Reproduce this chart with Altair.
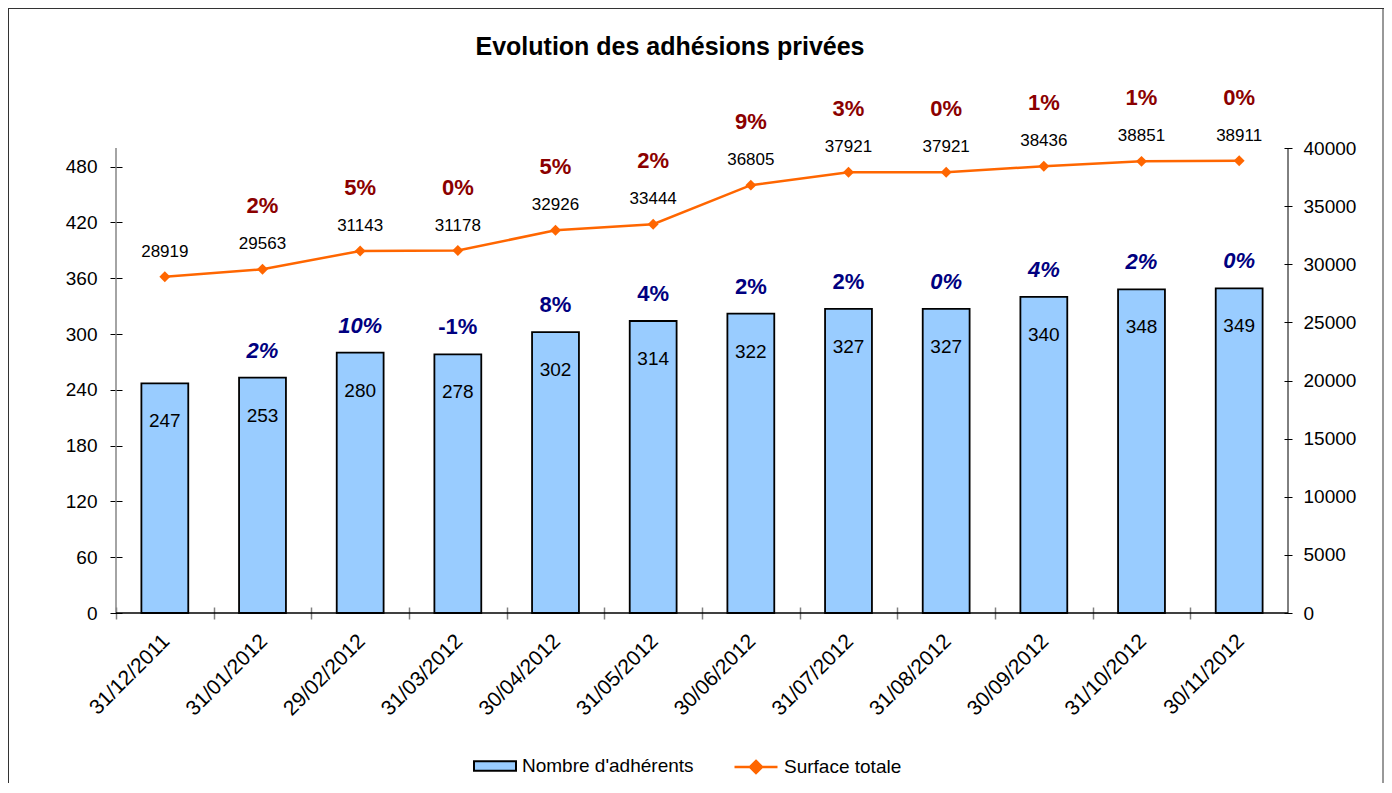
import altair as alt
import pandas as pd

dates = ["31/12/2011", "31/01/2012", "29/02/2012", "31/03/2012", "30/04/2012", "31/05/2012",
         "30/06/2012", "31/07/2012", "31/08/2012", "30/09/2012", "31/10/2012", "30/11/2012"]
adherents = [247, 253, 280, 278, 302, 314, 322, 327, 327, 340, 348, 349]
surface = [28919, 29563, 31143, 31178, 32926, 33444, 36805, 37921, 37921, 38436, 38851, 38911]
pct_adherents = ["", "2%", "10%", "-1%", "8%", "4%", "2%", "2%", "0%", "4%", "2%", "0%"]
pct_adherents_italic = [False, True, True, False, False, False, False, False, True, True, True, True]
pct_surface = ["", "2%", "5%", "0%", "5%", "2%", "9%", "3%", "0%", "1%", "1%", "0%"]
left_ticks = [0, 60, 120, 180, 240, 300, 360, 420, 480]
right_ticks = [0, 5000, 10000, 15000, 20000, 25000, 30000, 35000, 40000]
serie_bar = "Nombre d'adhérents"
serie_line = "Surface totale"
title_text = "Evolution des adhésions privées"

FONT = "Liberation Sans"
W, H = 1172, 465
STEP = W / len(dates)

df = pd.DataFrame({
    "date": dates,
    "adherents": adherents,
    "surface": surface,
    "pct_a": pct_adherents,
    "italic": pct_adherents_italic,
    "pct_s": pct_surface,
    "serie_bar": [serie_bar] * len(dates),
    "serie_line": [serie_line] * len(dates),
})

x_enc = alt.X(
    "date:N", sort=dates, title=None,
    scale=alt.Scale(paddingInner=0.52, paddingOuter=0.26),
    axis=alt.Axis(
        labelAngle=-45, labelAlign="right", labelBaseline="top",
        labelFont=FONT, labelFontSize=21, labelColor="black",
        labelPadding=11, labelOffset=STEP / 2 - 6.5,
        bandPosition=0.5, tickOffset=-STEP / 2,
        tickSize=12, tickColor="#808080", tickWidth=1.5, offset=-6,
        domain=False, grid=False,
    ),
)

y_left = alt.Y(
    "adherents:Q", title=None,
    scale=alt.Scale(domain=[0, 500], nice=False, zero=True),
    axis=alt.Axis(orient="left", values=left_ticks, labelFont=FONT, labelFontSize=19,
                  labelColor="black", tickSize=12, tickColor="black", offset=-6,
                  labelPadding=13, domain=False, grid=False),
)

y_right = alt.Y(
    "surface:Q", title=None,
    scale=alt.Scale(domain=[0, 40000], nice=False, zero=True),
    axis=alt.Axis(orient="right", values=right_ticks, labelFont=FONT, labelFontSize=19,
                  labelColor="black", tickSize=8, tickColor="black", offset=-4,
                  labelPadding=11, domain=False, grid=False, format="d"),
)

base = alt.Chart(df)

bars = base.mark_bar(stroke="black", strokeWidth=1.8).encode(
    x=x_enc,
    y=y_left,
    fill=alt.Fill("serie_bar:N", scale=alt.Scale(domain=[serie_bar], range=["#99CCFF"]),
                  legend=alt.Legend(orient="none", legendX=357, legendY=596, title=None,
                                    symbolType="M-1,-0.23H1V0.23H-1Z", symbolSize=1764,
                                    symbolStrokeColor="black", symbolStrokeWidth=2,
                                    labelFont=FONT, labelFontSize=19, labelColor="black",
                                    labelOffset=5, padding=0, labelLimit=400)),
)
bar_labels = base.mark_text(font=FONT, fontSize=19, baseline="middle", dy=38, color="black").encode(
    x=x_enc, y=y_left, text="adherents:Q")
pct_a_italic = base.transform_filter("datum.italic").mark_text(
    font=FONT, fontSize=22, fontWeight="bold", fontStyle="italic", color="#000080",
    baseline="middle", dy=-27).encode(x=x_enc, y=y_left, text="pct_a:N")
pct_a_normal = base.transform_filter("!datum.italic").mark_text(
    font=FONT, fontSize=22, fontWeight="bold", color="#000080",
    baseline="middle", dy=-27).encode(x=x_enc, y=y_left, text="pct_a:N")

bar_group = alt.layer(bars, bar_labels, pct_a_italic, pct_a_normal)

line = base.mark_line(strokeWidth=2.5).encode(
    x=x_enc,
    y=y_right,
    stroke=alt.Stroke("serie_line:N", scale=alt.Scale(domain=[serie_line], range=["#FF6600"]),
                      legend=alt.Legend(orient="none", legendX=617, legendY=596, title=None,
                                        symbolType="M-1,0H1M0,-0.28L0.28,0L0,0.28L-0.28,0Z",
                                        symbolSize=1849, symbolStrokeWidth=2.5,
                                        symbolFillColor="#FF6600",
                                        labelFont=FONT, labelFontSize=19, labelColor="black",
                                        labelOffset=5, padding=0, labelLimit=400)),
)
points = base.mark_point(shape="diamond", filled=True, size=120, color="#FF6600", opacity=1).encode(
    x=x_enc, y=y_right)
surf_labels = base.mark_text(font=FONT, fontSize=17, baseline="middle", dy=-25, color="black").encode(
    x=x_enc, y=y_right, text="surface:Q")
pct_s_labels = base.mark_text(font=FONT, fontSize=22, fontWeight="bold", color="#8B0000",
                              baseline="middle", dy=-63).encode(
    x=x_enc, y=y_right, text="pct_s:N")

line_group = alt.layer(line, points, surf_labels, pct_s_labels)

deco = alt.Chart(pd.DataFrame({"k": [0]}))
title_mark = deco.mark_text(font=FONT, fontSize=25, fontWeight="bold", color="black",
                            align="center", baseline="middle").encode(
    x=alt.value(554), y=alt.value(-101), text=alt.value(title_text))
axis_left_line = deco.mark_rule(color="#868686", strokeWidth=1.5).encode(
    x=alt.value(0), y=alt.value(0), y2=alt.value(H))
axis_right_line = deco.mark_rule(color="black", strokeWidth=1).encode(
    x=alt.value(W), y=alt.value(0), y2=alt.value(H))
axis_bottom_line = deco.mark_rule(color="black", strokeWidth=1.5).encode(
    x=alt.value(0), x2=alt.value(W), y=alt.value(H))
frame_left = deco.mark_rule(color="#333333", strokeWidth=1).encode(
    x=alt.value(-107.5), y=alt.value(-140), y2=alt.value(640))
frame_top = deco.mark_rule(color="#333333", strokeWidth=1).encode(
    x=alt.value(-108), x2=alt.value(1268), y=alt.value(-139.5))
frame_right = deco.mark_rule(color="#333333", strokeWidth=1).encode(
    x=alt.value(1267), y=alt.value(-140), y2=alt.value(640))

chart = alt.layer(
    bar_group, line_group,
    title_mark, axis_left_line, axis_right_line, axis_bottom_line,
    frame_left, frame_top, frame_right,
).resolve_scale(y="independent").properties(
    width=W, height=H,
    autosize=alt.AutoSizeParams(type="none"),
    padding={"left": 108, "top": 140, "right": 96, "bottom": 170},
    background="white",
).configure_view(strokeWidth=0)

chart.save("out.html", embed_options={"renderer": "svg", "actions": False})
